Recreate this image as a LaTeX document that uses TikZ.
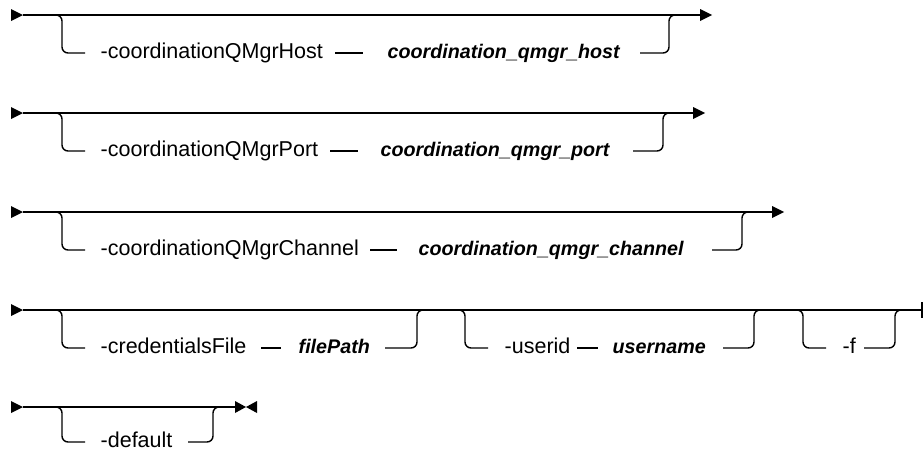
\documentclass[tikz,border=0pt]{standalone}
\usepackage{fontspec}
\setmainfont{Liberation Sans}
\newfontfamily\railfont{Liberation Sans}
\begin{document}
\begin{tikzpicture}[x=1pt,y=-1pt,line width=1.4pt,
  br/.style={rounded corners=6pt},
  kw/.style={font=\railfont\fontsize{21.5}{24}\selectfont, inner sep=0pt, anchor=west, text height=15pt, text depth=4pt},
  var/.style={kw, font=\railfont\fontsize{19.7}{24}\selectfont\itshape\bfseries},
  tipfill/.style={fill=black, draw=none}]
\useasboundingbox (0,0) rectangle (923,453);
% ---------- row 1 ----------
\coordinate (s1) at (23,15); \coordinate (e1) at (700,15);
\draw (s1) -- (e1);
\fill[tipfill] (11,9) -- (s1) -- (11,21) -- cycle;
\fill[tipfill] (700,9) -- (712,15) -- (700,21) -- cycle;
\node[kw] (k1) at (100,53) {-coordinationQMgrHost};
\node[var] (v1) at (387,53) {coordination\_qmgr\_host};
\coordinate (l1) at (85,53); \coordinate (r1) at (640,53);
\coordinate (d1a) at (335,53); \coordinate (d1b) at (363,53);
\draw[br] (52,15) -- (62,15) -- (62,53) -- (l1);
\draw (d1a) -- (d1b);
\draw[br] (r1) -- (669,53) -- (669,15) -- (680,15);
% ---------- row 2 ----------
\coordinate (s2) at (23,113); \coordinate (e2) at (693,113);
\draw (s2) -- (e2);
\fill[tipfill] (11,107) -- (s2) -- (11,119) -- cycle;
\fill[tipfill] (693,107) -- (705,113) -- (693,119) -- cycle;
\node[kw] (k2) at (100,151) {-coordinationQMgrPort};
\node[var] (v2) at (380,151) {coordination\_qmgr\_port};
\coordinate (l2) at (85,151); \coordinate (r2) at (633,151);
\coordinate (d2a) at (330,151); \coordinate (d2b) at (358,151);
\draw[br] (52,113) -- (62,113) -- (62,151) -- (l2);
\draw (d2a) -- (d2b);
\draw[br] (r2) -- (663,151) -- (663,113) -- (673,113);
% ---------- row 3 ----------
\coordinate (s3) at (23,212); \coordinate (e3) at (772,212);
\draw (s3) -- (e3);
\fill[tipfill] (11,206) -- (s3) -- (11,218) -- cycle;
\fill[tipfill] (772,206) -- (784,212) -- (772,218) -- cycle;
\node[kw] (k3) at (100,250) {-coordinationQMgrChannel};
\node[var] (v3) at (418,250) {coordination\_qmgr\_channel};
\coordinate (l3) at (85,250); \coordinate (r3) at (712,250);
\coordinate (d3a) at (370,250); \coordinate (d3b) at (397,250);
\draw[br] (52,212) -- (62,212) -- (62,250) -- (l3);
\draw (d3a) -- (d3b);
\draw[br] (r3) -- (742,250) -- (742,212) -- (752,212);
% ---------- row 4 ----------
\coordinate (s4) at (23,310); \coordinate (e4) at (922,310);
\draw (s4) -- (e4);
\fill[tipfill] (11,304) -- (s4) -- (11,316) -- cycle;
\draw (922,302) -- (922,318);
\node[kw] (k4) at (100,348) {-credentialsFile};
\node[var] (v4) at (298,348) {filePath};
\coordinate (l4) at (85,348); \coordinate (r4) at (385,348);
\coordinate (d4a) at (261,348); \coordinate (d4b) at (281,348);
\draw[br] (52,310) -- (62,310) -- (62,348) -- (l4);
\draw (d4a) -- (d4b);
\draw[br] (r4) -- (417,348) -- (417,310) -- (427,310);
\node[kw] (k5) at (504,348) {-userid};
\node[var] (v5) at (612,348) {username};
\coordinate (l5) at (488,348); \coordinate (r5) at (723,348);
\coordinate (d5a) at (577,348); \coordinate (d5b) at (598,348);
\draw[br] (455,310) -- (465,310) -- (465,348) -- (l5);
\draw (d5a) -- (d5b);
\draw[br] (r5) -- (754,348) -- (754,310) -- (764,310);
\node[kw] (k6) at (842,348) {-f};
\coordinate (l6) at (826,348); \coordinate (r6) at (864,348);
\draw[br] (793,310) -- (803,310) -- (803,348) -- (l6);
\draw[br] (r6) -- (895,348) -- (895,310) -- (905,310);
% ---------- row 5 ----------
\coordinate (s5) at (23,407); \coordinate (e5) at (235,407);
\draw (s5) -- (e5);
\fill[tipfill] (11,401) -- (s5) -- (11,413) -- cycle;
\fill[tipfill] (235,401) -- (246,407) -- (235,413) -- cycle;
\fill[tipfill] (257,401) -- (246,407) -- (257,413) -- cycle;
\node[kw, text height=12pt, text depth=1pt] (k7) at (100,442) {-default};
\coordinate (l7) at (85,442); \coordinate (r7) at (188,442);
\draw[br] (52,407) -- (62,407) -- (62,442) -- (l7);
\draw[br] (r7) -- (213,442) -- (213,407) -- (223,407);
\end{tikzpicture}
\end{document}
